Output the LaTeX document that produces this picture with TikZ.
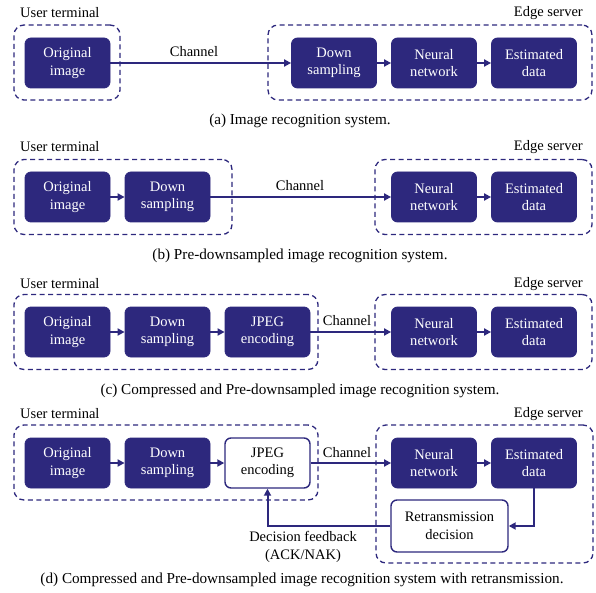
\documentclass[tikz,border=0pt]{standalone}
\usepackage{fontspec}
\setmainfont{Liberation Serif}
\usetikzlibrary{arrows.meta}
\definecolor{navy}{RGB}{45,40,125}
\begin{document}
\begin{tikzpicture}[x=1pt,y=-1pt,
  every node/.style={font=\fontsize{14.5}{17.5}\selectfont, inner sep=0pt},
  blk/.style={draw=navy, fill=navy, text=white, rounded corners=6pt, minimum width=85pt, minimum height=50pt, align=center, line width=0.8pt},
  wblk/.style={draw=navy, fill=white, text=black, rounded corners=6pt, minimum width=85pt, minimum height=50pt, align=center, line width=1.4pt},
  grp/.style={draw=navy, dash pattern=on 5pt off 3.5pt, line width=1.3pt, rounded corners=10pt},
  arr/.style={draw=navy, line width=2pt, -{Triangle[length=7pt,width=7pt]}},
  lbl/.style={text=black, align=center},
  captxt/.style={text=black, font=\fontsize{15.2}{18}\selectfont}
]
\useasboundingbox (0,0) rectangle (596,593);

% ---------- (a)
\node[grp, minimum width=106pt, minimum height=75pt] (ga1) at (67,62.5) {};
\node[grp, minimum width=324pt, minimum height=75pt] (ga2) at (430,62.5) {};
\node[lbl, anchor=west] (uta) at (20,13) {User terminal};
\node[lbl, anchor=east] (esa) at (583,13) {Edge server};
\node[blk] (oa) at (67.5,63) {Original\\image};
\node[blk] (da) at (334,63) {Down\\sampling};
\node[blk] (na) at (434,63) {Neural\\network};
\node[blk] (ea) at (534,63) {Estimated\\data};
\draw[arr] (oa) -- (da);
\node[lbl] (cha) at (194,52) {Channel};
\draw[arr] (da) -- (na);
\draw[arr] (na) -- (ea);
\node[captxt] (capa) at (300,121) {(a) Image recognition system.};

% ---------- (b)
\node[grp, minimum width=218pt, minimum height=75pt] (gb1) at (123,197) {};
\node[grp, minimum width=217pt, minimum height=75pt] (gb2) at (483.5,197) {};
\node[lbl, anchor=west] (utb) at (20,147) {User terminal};
\node[lbl, anchor=east] (esb) at (583,147) {Edge server};
\node[blk] (ob) at (67.5,197) {Original\\image};
\node[blk] (db) at (167.5,197) {Down\\sampling};
\node[blk] (nb) at (434,197) {Neural\\network};
\node[blk] (eb) at (534,197) {Estimated\\data};
\draw[arr] (ob) -- (db);
\draw[arr] (db) -- (nb);
\node[lbl] (chb) at (300,186) {Channel};
\draw[arr] (nb) -- (eb);
\node[captxt] (capb) at (300,256) {(b) Pre-downsampled image recognition system.};

% ---------- (c)
\node[grp, minimum width=304pt, minimum height=75pt] (gc1) at (166,332) {};
\node[grp, minimum width=217pt, minimum height=75pt] (gc2) at (483.5,332) {};
\node[lbl, anchor=west] (utc) at (20,284) {User terminal};
\node[lbl, anchor=east] (esc) at (583,284) {Edge server};
\node[blk] (oc) at (67.5,332) {Original\\image};
\node[blk] (dc) at (167.5,332) {Down\\sampling};
\node[blk] (jc) at (267.5,332) {JPEG\\encoding};
\node[blk] (nc) at (434,332) {Neural\\network};
\node[blk] (ec) at (534,332) {Estimated\\data};
\draw[arr] (oc) -- (dc);
\draw[arr] (dc) -- (jc);
\draw[arr] (jc) -- (nc);
\node[lbl] (chc) at (347,321) {Channel};
\draw[arr] (nc) -- (ec);
\node[captxt] (capc) at (300,391) {(c) Compressed and Pre-downsampled image recognition system.};

% ---------- (d)
\node[grp, minimum width=304pt, minimum height=75pt] (gd1) at (166,462.5) {};
\node[grp, minimum width=217pt, minimum height=138pt] (gd2) at (484.5,494) {};
\node[lbl, anchor=west] (utd) at (20,414) {User terminal};
\node[lbl, anchor=east] (esd) at (583,414) {Edge server};
\node[blk] (od) at (67.5,463) {Original\\image};
\node[blk] (dd) at (167.5,463) {Down\\sampling};
\node[wblk] (jd) at (267.5,463) {JPEG\\encoding};
\node[blk] (nd) at (434,463) {Neural\\network};
\node[blk] (ed) at (534,463) {Estimated\\data};
\node[wblk, minimum width=117pt, minimum height=52pt] (rd) at (449.5,526) {Retransmission\\decision};
\draw[arr] (od) -- (dd);
\draw[arr] (dd) -- (jd);
\draw[arr] (jd) -- (nd);
\node[lbl] (chd) at (347,453) {Channel};
\draw[arr] (nd) -- (ed);
\draw[arr] (ed.south) |- (rd.east);
\draw[arr] (rd.west) -| (jd.south);
\node[lbl] (fb) at (303,547) {Decision feedback\\(ACK/NAK)};
\node[captxt] (capd) at (302,580) {(d) Compressed and Pre-downsampled image recognition system with retransmission.};
\end{tikzpicture}
\end{document}
